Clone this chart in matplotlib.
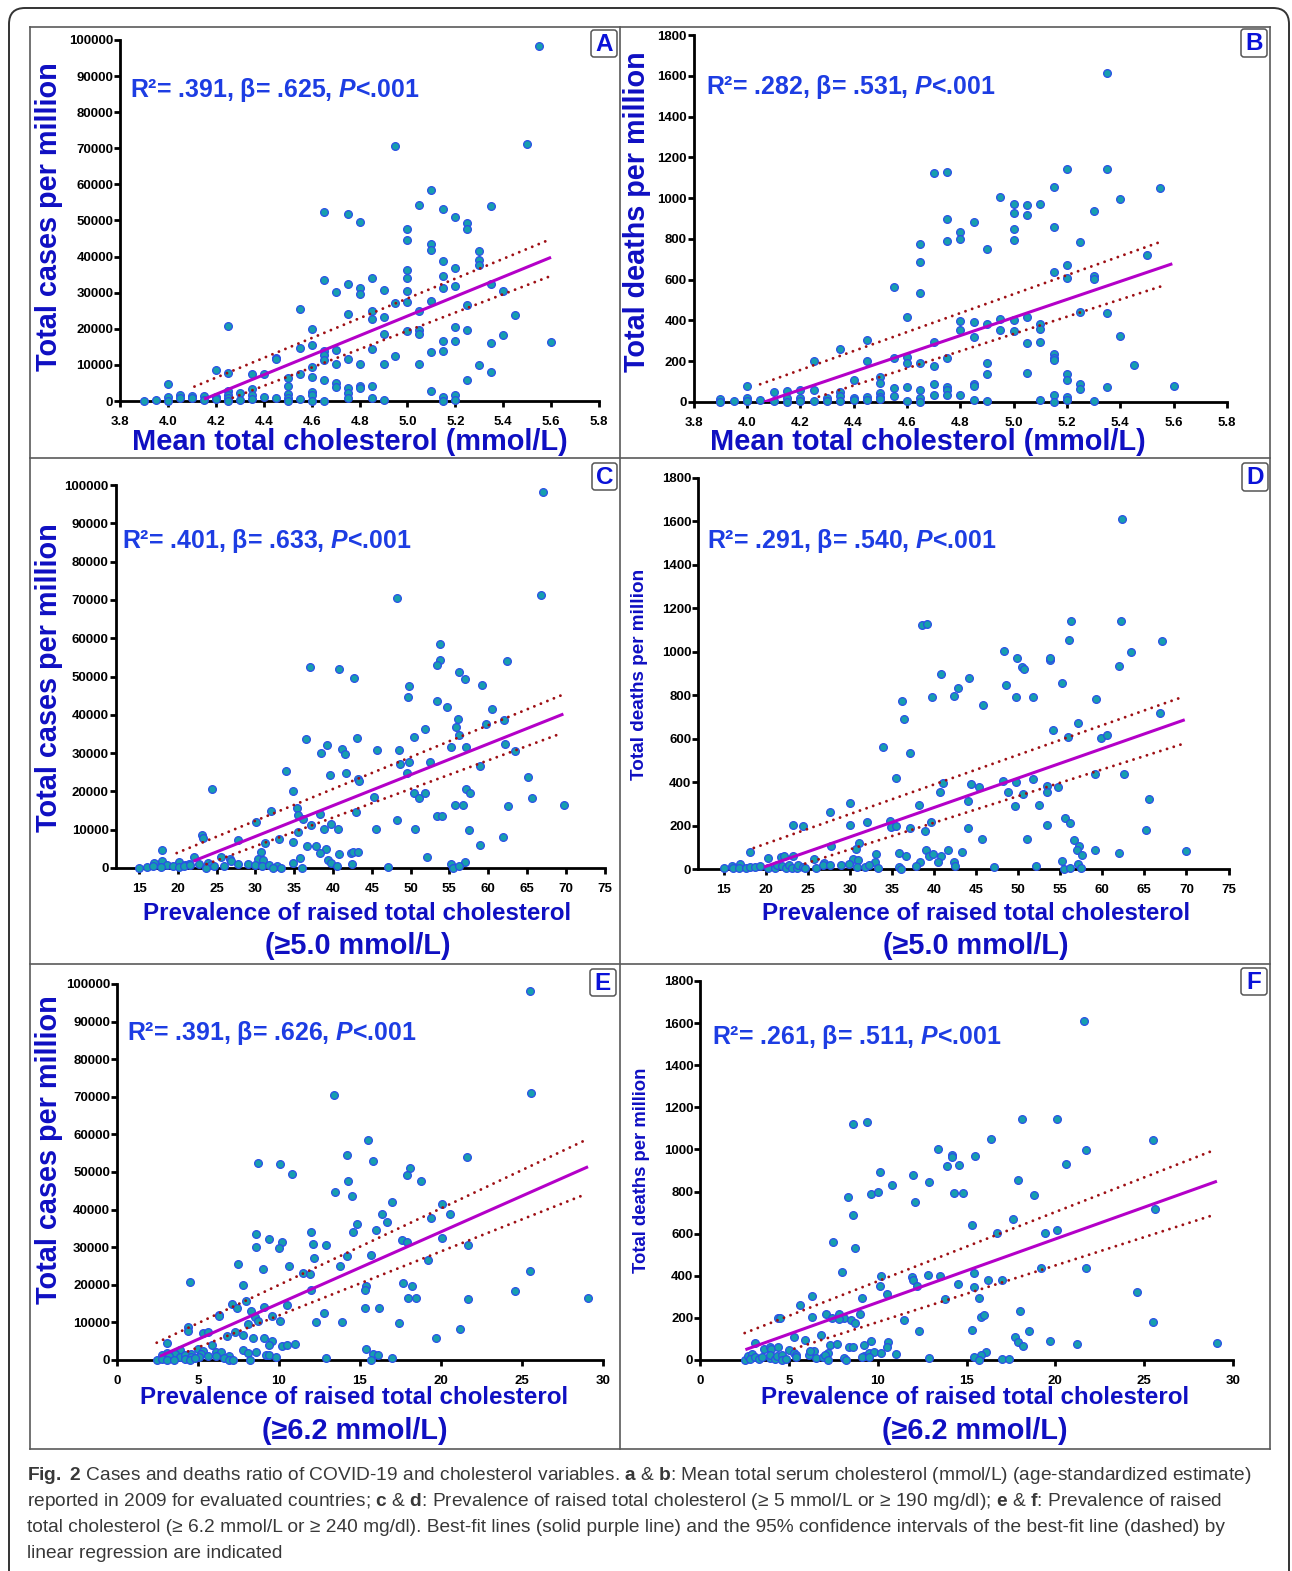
import matplotlib
matplotlib.use('Agg')
import matplotlib.pyplot as plt
from matplotlib import font_manager as fm
from matplotlib.patches import FancyBboxPatch
from matplotlib.lines import Line2D
from matplotlib.transforms import IdentityTransform

# ---- data ----
# A: cases vs mean total cholesterol
chol_a = [3.9, 3.95, 4.0, 4.0, 4.0, 4.05, 4.05, 4.1, 4.1, 4.15, 4.15, 4.2, 4.2, 4.2,
          4.25, 4.25, 4.25, 4.25, 4.25, 4.25, 4.3, 4.3, 4.35, 4.35, 4.35, 4.35, 4.4, 4.4,
          4.45, 4.45, 4.45, 4.5, 4.5, 4.5, 4.5, 4.5, 4.55, 4.55, 4.55, 4.55,
          4.6, 4.6, 4.6, 4.6, 4.6, 4.6, 4.6, 4.65, 4.65, 4.65, 4.65, 4.65, 4.65, 4.65,
          4.7, 4.7, 4.7, 4.7, 4.7, 4.75, 4.75, 4.75, 4.75, 4.75, 4.75, 4.75,
          4.8, 4.8, 4.8, 4.8, 4.8, 4.8, 4.85, 4.85, 4.85, 4.85, 4.85, 4.85,
          4.9, 4.9, 4.9, 4.9, 4.9, 4.95, 4.95, 4.95, 5.0, 5.0, 5.0, 5.0, 5.0, 5.0, 5.0,
          5.05, 5.05, 5.05, 5.05, 5.05, 5.1, 5.1, 5.1, 5.1, 5.1, 5.1,
          5.15, 5.15, 5.15, 5.15, 5.15, 5.15, 5.15, 5.15, 5.2, 5.2, 5.2, 5.2, 5.2, 5.2, 5.2,
          5.25, 5.25, 5.25, 5.25, 5.25, 5.3, 5.3, 5.3, 5.3, 5.35, 5.35, 5.35, 5.35,
          5.4, 5.4, 5.45, 5.5, 5.55, 5.6]
cases_a = [0, 300, 4600, 1200, 0, 1700, 700, 1500, 700, 1400, 200, 8700, 1200, 500,
           20700, 7800, 2800, 1700, 700, 0, 2200, 300, 7400, 3200, 1700, 500, 7400, 1200,
           12000, 11600, 900, 6500, 4100, 2000, 900, 0, 25400, 14700, 7600, 500,
           19900, 15600, 9500, 6700, 2400, 1700, 0, 52400, 33600, 13900, 12700, 11400, 5700, 0,
           30200, 14100, 10200, 5000, 3800, 51900, 32300, 24200, 11600, 3700, 2100, 900,
           49600, 31200, 29700, 10200, 4200, 3700, 34100, 24800, 22700, 14500, 4100, 800,
           30700, 23300, 18500, 10200, 400, 70500, 27100, 12600,
           47600, 44600, 36200, 34200, 30600, 27500, 19400,
           54400, 24900, 19700, 18500, 10200, 58400, 43600, 41900, 27700, 13700, 2900,
           53100, 38900, 34500, 31400, 16600, 13900, 1200, 0,
           51100, 36800, 31800, 20400, 16600, 1700, 400,
           49300, 47700, 26600, 19600, 5900, 41500, 39000, 37700, 9900,
           54000, 32300, 16200, 8000, 30600, 18200, 23700, 71100, 98300, 16400]

# B: deaths vs mean total cholesterol
chol_b = [3.9, 3.9, 3.95, 4.0, 4.0, 4.0, 4.05, 4.1, 4.1, 4.15, 4.15, 4.15, 4.2, 4.2, 4.2,
          4.25, 4.25, 4.25, 4.3, 4.3, 4.35, 4.35, 4.35, 4.35, 4.4, 4.4, 4.4,
          4.45, 4.45, 4.45, 4.45, 4.5, 4.5, 4.5, 4.5, 4.5, 4.55, 4.55, 4.55, 4.55,
          4.6, 4.6, 4.6, 4.6, 4.6, 4.65, 4.65, 4.65, 4.65, 4.65, 4.65, 4.65,
          4.7, 4.7, 4.7, 4.7, 4.7, 4.75, 4.75, 4.75, 4.75, 4.75, 4.75, 4.75,
          4.8, 4.8, 4.8, 4.8, 4.8, 4.85, 4.85, 4.85, 4.85, 4.85, 4.85,
          4.9, 4.9, 4.9, 4.9, 4.9, 4.95, 4.95, 4.95, 5.0, 5.0, 5.0, 5.0, 5.0, 5.0,
          5.05, 5.05, 5.05, 5.05, 5.05, 5.1, 5.1, 5.1, 5.1, 5.1,
          5.15, 5.15, 5.15, 5.15, 5.15, 5.15, 5.15, 5.15, 5.2, 5.2, 5.2, 5.2, 5.2, 5.2, 5.2,
          5.25, 5.25, 5.25, 5.25, 5.3, 5.3, 5.3, 5.3, 5.35, 5.35, 5.35, 5.35,
          5.4, 5.4, 5.45, 5.5, 5.55, 5.6]
deaths_b = [16, 0, 5, 78, 21, 5, 10, 51, 5, 54, 21, 0, 60, 21, 5,
            200, 60, 5, 21, 5, 262, 47, 31, 5, 106, 21, 10,
            306, 203, 26, 10, 121, 95, 44, 23, 15, 562, 217, 69, 31,
            418, 221, 193, 72, 5, 777, 688, 536, 193, 60, 21, 0,
            1125, 294, 177, 88, 33, 1130, 896, 791, 217, 72, 57, 34,
            834, 799, 399, 353, 34, 881, 394, 320, 87, 78, 11,
            752, 381, 190, 139, 5, 1004, 409, 353, 973, 929, 847, 793, 401, 347,
            965, 919, 415, 291, 141, 971, 383, 358, 296, 11,
            1054, 857, 639, 235, 214, 206, 34, 0, 1144, 672, 606, 136, 110, 26, 11,
            783, 440, 88, 64, 935, 620, 602, 5, 1614, 1144, 436, 74,
            997, 322, 181, 719, 1048, 80]

# C: cases vs prevalence of raised cholesterol (>=5.0 mmol/L)
prev5_c = [67.1, 48.3, 66.8, 37.0, 40.8, 42.7, 53.8, 53.8, 53.4, 56.2, 57.0, 62.4, 49.8, 49.7,
           53.4, 54.7, 59.2, 60.5, 56.1, 62.0, 55.9, 59.7, 51.8, 56.2, 50.5, 43.1, 36.5, 39.2,
           41.1, 38.5, 41.6, 45.7, 48.5, 62.2, 63.4, 57.1, 55.2, 48.7, 49.8, 52.5, 59.0, 49.6,
           33.9, 39.6, 41.7, 43.2, 43.4, 65.2, 24.4, 34.8, 50.5, 51.1, 51.8, 57.1, 57.6, 45.3,
           65.6, 55.7, 56.7, 62.6, 69.8, 32.0, 35.4, 43.0, 35.5, 36.1, 53.4, 54.1, 48.2, 30.1,
           38.3, 35.5, 37.2, 39.7, 38.9, 40.6, 45.6, 50.6, 57.5, 23.1, 23.2, 27.7, 33.0, 61.9,
           34.8, 31.2, 36.7, 37.8, 39.1, 59.0, 18.0, 30.7, 38.3, 40.8, 42.3, 42.6, 43.2, 52.1,
           22.1, 25.6, 26.7, 30.3, 31.0, 35.8, 39.4, 39.7, 57.0, 55.2, 18.0, 16.9, 18.6, 20.2,
           20.9, 21.5, 22.7, 23.9, 24.3, 26.9, 27.7, 29.0, 29.9, 30.9, 31.8, 32.8, 34.9, 42.5,
           15.0, 16.0, 16.8, 17.8, 19.4, 20.2, 20.8, 21.6, 23.6, 24.6, 26.0, 32.3, 33.3, 36.0,
           40.5, 47.1, 55.5, 56.2]
cases_c = [98300, 70400, 71200, 52400, 52000, 49500, 58600, 54400, 53000, 51100, 49300, 54000,
           47600, 44600, 43700, 42100, 47700, 41400, 38800, 38700, 36800, 37700, 36300, 34600,
           34100, 34000, 33600, 32200, 31200, 30100, 29700, 30700, 30700, 32400, 30500, 31700,
           31500, 27100, 27600, 27800, 26700, 24900, 25400, 24200, 24800, 23200, 22700, 23700,
           20700, 20000, 19500, 18400, 19700, 20500, 19600, 18500, 18300, 16500, 16500, 16200,
           16500, 14800, 15600, 14500, 13800, 12900, 13600, 13700, 12500, 12000, 14100, 9500,
           11300, 11600, 10300, 10300, 10200, 10200, 9900, 8700, 7800, 7400, 7600, 8100,
           6700, 6400, 5800, 5800, 5000, 5900, 4600, 4100, 3800, 3700, 3900, 4300, 4200, 2900,
           2800, 3000, 2300, 2300, 2200, 2500, 2200, 1200, 1500, 1100, 1700, 1300, 900, 1500,
           900, 1000, 1000, 1300, 900, 1700, 1000, 1000, 700, 400, 900, 600, 1300, 1000,
           100, 300, 400, 300, 400, 300, 600, 800, 0, 400, 400, 0, 100, 0,
           600, 300, 0, 400]

# D: deaths vs prevalence of raised cholesterol (>=5.0 mmol/L)
prev5_d = [62.4, 38.6, 39.2, 56.3, 62.2, 56.1, 67.1, 48.3, 49.9, 53.8, 53.8, 50.5, 50.7, 62.0,
           63.4, 40.8, 44.2, 48.6, 55.2, 42.8, 42.4, 39.8, 49.8, 51.8, 59.2, 36.2, 45.8, 36.5,
           66.9, 57.1, 37.1, 33.9, 54.1, 55.9, 59.8, 60.6, 35.5, 59.1, 62.6, 41.1, 44.4, 45.3,
           48.2, 49.8, 51.8, 53.4, 53.4, 54.7, 40.7, 48.8, 50.6, 44.0, 52.5, 49.6, 38.2, 30.0,
           65.6, 27.6, 34.8, 34.9, 35.5, 30.0, 32.0, 23.2, 24.4, 39.7, 38.9, 37.2, 44.1, 53.4,
           55.6, 56.2, 65.2, 45.7, 51.1, 56.7, 57.2, 57.0, 31.1, 30.7, 27.8, 18.1, 39.0, 41.7,
           43.3, 59.1, 62.0, 69.9, 20.3, 21.8, 22.2, 23.2, 25.7, 30.4, 31.0, 33.1, 35.8, 36.7,
           39.4, 39.9, 40.8, 40.5, 42.4, 57.6, 55.2, 26.9, 33.0, 38.4, 57.1,
           15.1, 16.0, 16.1, 16.9, 16.8, 17.7, 18.1, 18.7, 19.3, 20.3, 21.1, 21.3, 21.9, 22.4,
           22.8, 23.1, 23.7, 23.9, 24.4, 24.7, 26.0, 26.8, 27.6, 29.0, 29.9, 30.8, 31.8, 32.3,
           33.4, 35.8, 36.1, 37.9, 42.5, 47.1, 52.1, 55.5, 56.2, 57.5]
deaths_d = [1613, 1122, 1128, 1143, 1143, 1053, 1048, 1002, 973, 964, 973, 931, 919, 933,
            997, 896, 881, 847, 856, 833, 798, 790, 793, 792, 783, 775, 753, 689,
            718, 672, 536, 562, 640, 606, 602, 618, 417, 437, 436, 397, 393, 379,
            407, 399, 416, 381, 356, 379, 353, 353, 345, 315, 295, 290, 295, 305,
            322, 261, 222, 192, 198, 203, 218, 203, 198, 216, 173, 187, 187, 204,
            233, 212, 180, 138, 138, 135, 107, 86, 120, 94, 104, 77, 89, 87,
            80, 89, 72, 81, 51, 54, 61, 61, 46, 46, 41, 71, 72, 60,
            58, 71, 61, 34, 34, 63, 35, 29, 32, 32, 21,
            3, 15, 3, 21, 6, 5, 11, 9, 12, 3, 6, 17, 15, 5,
            20, 5, 3, 20, 9, 6, 6, 18, 18, 17, 21, 11, 9, 20,
            3, 9, 0, 15, 12, 8, 12, 0, 3, 3]

# E: cases vs prevalence of raised cholesterol (>=6.2 mmol/L)
prev6_e = [25.5, 25.6, 13.4, 15.5, 14.2, 15.8, 8.7, 10.1, 10.8, 21.6, 18.1, 17.9, 18.8, 14.3,
           14.5, 13.5, 17.0, 20.1, 16.4, 20.6, 19.4, 16.7, 14.8, 16.0, 14.6, 8.6, 12.0, 9.4,
           10.2, 12.1, 12.9, 8.6, 10.0, 20.1, 17.6, 17.9, 21.7, 14.2, 15.7, 12.2, 19.2, 7.5,
           10.6, 13.8, 9.0, 25.5, 11.5, 11.9, 4.5, 7.8, 17.7, 18.2, 15.4, 15.3, 12.0, 24.6,
           18.0, 18.5, 21.7, 29.1, 8.0, 7.1, 7.4, 9.1, 10.5, 15.3, 16.2, 6.3, 6.3, 8.3,
           8.5, 9.6, 12.8, 8.7, 10.1, 12.3, 13.9, 8.1, 17.4, 4.4, 4.4, 21.2, 5.3, 5.6,
           7.3, 6.8, 7.8, 8.4, 9.1, 19.7, 9.6, 9.4, 10.2, 10.5, 11.0, 3.1, 5.9, 15.4,
           5.0, 3.9, 5.3, 6.1, 6.4, 8.6, 7.8, 3.1, 3.6, 4.6, 5.2, 9.2, 9.4, 9.8,
           15.8, 16.1, 8.1, 6.9, 6.1, 2.8, 3.2, 3.9, 4.2, 4.6, 5.1, 5.6, 2.5, 2.8,
           3.1, 3.5, 4.2, 4.5, 4.8, 6.6, 6.9, 7.2, 8.2, 12.9, 15.7, 17.0]
cases_e = [98200, 71100, 70400, 58500, 54400, 53000, 52400, 52000, 49600, 54000, 51100, 49300,
           47700, 47600, 43700, 44600, 42000, 41500, 38800, 38800, 37700, 36800, 36300, 34600,
           34100, 33600, 34000, 32300, 31300, 30800, 30600, 30100, 29700, 32400, 31800, 31500,
           30500, 27700, 27800, 27100, 26600, 25400, 24900, 25000, 24100, 23800, 23200, 22800,
           20800, 20000, 20500, 19600, 19600, 18500, 18500, 18300, 16600, 16600, 16200, 16500,
           15600, 14800, 13800, 14100, 14500, 13800, 13700, 12100, 11700, 12900, 11400, 11600,
           12600, 10400, 10300, 10200, 10200, 9500, 9900, 8900, 7800, 8200, 7300, 7400,
           7500, 6500, 6700, 5900, 5800, 5900, 5000, 3900, 3700, 4100, 4200, 4600, 4100, 2900,
           3000, 2700, 2300, 2100, 2200, 2200, 2600, 1900, 1700, 1600, 1600, 1200, 1200, 800,
           1600, 1200, 1800, 1000, 1000, 1200, 1100, 900, 1200, 900, 800, 1100, 0, 200,
           0, 100, 300, 0, 400, 500, 0, 0, 0, 400, 0, 400]

# F: deaths vs prevalence of raised cholesterol (>=6.2 mmol/L)
prev6_f = [21.6, 8.6, 9.4, 18.1, 20.1, 16.4, 25.5, 13.4, 21.7, 14.2, 14.2, 15.5, 13.9, 14.6,
           20.6, 10.1, 12.0, 17.9, 12.9, 10.8, 8.3, 9.6, 10.0, 14.3, 14.8, 18.8, 12.1, 8.6,
           25.6, 17.6, 15.3, 7.5, 8.7, 16.7, 19.4, 20.1, 8.0, 19.2, 21.7, 10.2, 11.9, 12.0,
           12.8, 13.5, 15.4, 10.1, 12.2, 15.4, 14.5, 16.2, 17.0, 10.5, 6.3, 9.1, 13.8, 15.7,
           5.6, 24.6, 4.4, 4.5, 6.3, 7.1, 7.4, 7.8, 8.1, 7.8, 8.5, 8.7, 9.0, 15.8,
           16.0, 18.0, 25.5, 11.5, 12.3, 15.3, 18.5, 5.3, 5.9, 6.8, 3.1, 29.1, 21.2, 19.7,
           17.7, 17.9, 18.2, 8.4, 8.6, 9.2, 9.6, 10.6, 10.5, 7.3, 7.7, 3.6, 3.9, 4.0,
           4.4, 5.0, 5.3, 5.4, 6.1, 6.4, 6.2, 7.2, 9.2, 9.5, 9.8, 10.2, 11.0, 16.1,
           15.8, 2.5, 2.7, 2.9, 2.8, 3.1, 3.3, 3.5, 3.9, 3.9, 4.2, 4.3, 4.6, 4.6,
           4.8, 5.4, 6.5, 6.9, 7.0, 7.2, 8.1, 8.2, 9.1, 9.5, 12.9, 15.4, 15.7, 17.0, 17.4]
deaths_f = [1612, 1122, 1128, 1143, 1143, 1051, 1046, 1002, 997, 973, 962, 970, 919, 927,
            933, 895, 880, 856, 846, 832, 773, 789, 797, 791, 791, 783, 751, 688,
            718, 670, 639, 561, 534, 605, 601, 616, 420, 439, 436, 399, 393, 380,
            406, 399, 415, 353, 352, 347, 360, 380, 380, 315, 306, 295, 292, 296,
            261, 322, 201, 200, 204, 220, 201, 220, 201, 195, 190, 176, 217, 206,
            216, 235, 182, 190, 139, 141, 136, 108, 97, 120, 79, 82, 74, 90,
            111, 86, 65, 62, 62, 70, 89, 86, 60, 71, 74, 51, 60, 52,
            63, 46, 35, 22, 22, 41, 44, 33, 21, 33, 36, 33, 29, 36,
            24, 2, 19, 29, 5, 13, 3, 14, 8, 22, 3, 21, 25, 2,
            6, 13, 10, 13, 22, 2, 11, 0, 13, 14, 8, 13, 0, 3, 3]

# best-fit line and 95% CI end points (x0, x1), (y0, y1)
fit_a = ([4.15, 5.6], [500, 39800]);  hi_a = ([4.11, 5.59], [4000, 44600]);  lo_a = ([4.27, 5.59], [900, 34400])
fit_b = ([4.065, 5.595], [0, 678]);   hi_b = ([4.05, 5.55], [87, 785]);       lo_b = ([4.27, 5.55], [26, 566])
fit_c = ([22.0, 69.7], [1800, 40200]); hi_c = ([19.85, 69.8], [3900, 45400]); lo_c = ([23.7, 69.1], [1000, 34900])
fit_d = ([19.8, 69.8], [9, 687]);     hi_d = ([18.6, 69.4], [97, 790]);       lo_d = ([24.7, 69.5], [25, 575])
fit_e = ([2.65, 29.1], [1000, 51400]); hi_e = ([2.46, 29.0], [4600, 58600]);  lo_e = ([4.4, 28.9], [2300, 44000])
fit_f = ([2.54, 29.1], [49, 849]);    hi_f = ([2.5, 28.8], [128, 992]);       lo_f = ([5.3, 29.0], [54, 691])

stats = ['R\u00b2= .391, \u03b2= .625, $P$<.001', 'R\u00b2= .282, \u03b2= .531, $P$<.001',
         'R\u00b2= .401, \u03b2= .633, $P$<.001', 'R\u00b2= .291, \u03b2= .540, $P$<.001',
         'R\u00b2= .391, \u03b2= .626, $P$<.001', 'R\u00b2= .261, \u03b2= .511, $P$<.001']
letters = ['A', 'B', 'C', 'D', 'E', 'F']

# ---- style ----
W, H = 1292, 1571
names = {f.name for f in fm.fontManager.ttflist}
cap_font = 'Liberation Sans Narrow' if 'Liberation Sans Narrow' in names else 'Liberation Sans'
plt.rcParams['font.family'] = ['Liberation Sans', 'DejaVu Sans']
plt.rcParams['mathtext.fontset'] = 'custom'
plt.rcParams['mathtext.it'] = 'Liberation Sans:italic:bold'
plt.rcParams['mathtext.rm'] = 'Liberation Sans'
plt.rcParams['mathtext.bf'] = cap_font + ':bold'

LBL = '#0f0fc2'
STAT = '#1d3de3'
FACE = '#169fae'
EDGE = '#2b4fe6'
FITC = '#b400c8'
CIC = '#9e0f14'

fig = plt.figure(figsize=(W / 100, H / 100), dpi=100)
ID = IdentityTransform()


def px(x0, y0, x1, y1):
    # pixel box (top-left origin) -> figure fraction rect
    return [x0 / W, 1 - y1 / H, (x1 - x0) / W, (y1 - y0) / H]


def ftext(x, y, s, **kw):
    return fig.text(x / W, 1 - y / H, s, **kw)


def panel(rect, xs, ys, fit, hi, lo, xlim, xticks, xlabels, ymax, ystep):
    ax = fig.add_axes(rect)
    ax.scatter(xs, ys, s=31, c=FACE, edgecolors=EDGE, linewidths=0.9, zorder=3, clip_on=False)
    ax.plot(hi[0], hi[1], color=CIC, lw=2.1, linestyle=(0, (0.01, 2.4)), dash_capstyle='round', zorder=4)
    ax.plot(lo[0], lo[1], color=CIC, lw=2.1, linestyle=(0, (0.01, 2.4)), dash_capstyle='round', zorder=4)
    ax.plot(fit[0], fit[1], color=FITC, lw=2.2, zorder=5, solid_capstyle='butt')
    ax.set_xlim(*xlim)
    ax.set_ylim(0, ymax)
    ax.set_xticks(xticks)
    ax.set_xticklabels(xlabels, fontweight='bold', fontsize=9.5)
    yt = list(range(0, ymax + 1, ystep))
    ax.set_yticks(yt)
    ax.set_yticklabels([str(v) for v in yt], fontweight='bold', fontsize=9.5)
    for s in ['top', 'right']:
        ax.spines[s].set_visible(False)
    for s in ['left', 'bottom']:
        ax.spines[s].set_linewidth(2.0)
        ax.spines[s].set_capstyle('projecting')
    ax.tick_params(axis='both', direction='out', length=4, width=2.0, colors='black')
    ax.tick_params(axis='x', pad=6.5)
    ax.tick_params(axis='y', pad=1)
    ax.patch.set_alpha(0)
    return ax


chol_ticks = [3.8, 4.0, 4.2, 4.4, 4.6, 4.8, 5.0, 5.2, 5.4, 5.6, 5.8]
chol_labels = ['3.8', '4.0', '4.2', '4.4', '4.6', '4.8', '5.0', '5.2', '5.4', '5.6', '5.8']
p5_ticks = [15, 20, 25, 30, 35, 40, 45, 50, 55, 60, 65, 70, 75]
p6_ticks = [0, 5, 10, 15, 20, 25, 30]

panel(px(120.3, 40, 598.9, 401), chol_a, cases_a, fit_a, hi_a, lo_a, (3.8, 5.8), chol_ticks, chol_labels, 100000, 10000)
panel(px(693.5, 35, 1227, 402), chol_b, deaths_b, fit_b, hi_b, lo_b, (3.8, 5.8), chol_ticks, chol_labels, 1800, 200)
panel(px(115.8, 485, 604.5, 868), prev5_c, cases_c, fit_c, hi_c, lo_c, (12, 75), p5_ticks, [str(v) for v in p5_ticks], 100000, 10000)
panel(px(698.3, 478, 1228.5, 869), prev5_d, deaths_d, fit_d, hi_d, lo_d, (12, 75), p5_ticks, [str(v) for v in p5_ticks], 1800, 200)
panel(px(116.9, 984, 602.6, 1360), prev6_e, cases_e, fit_e, hi_e, lo_e, (0, 30), p6_ticks, [str(v) for v in p6_ticks], 100000, 10000)
panel(px(700.3, 981, 1232.9, 1360), prev6_f, deaths_f, fit_f, hi_f, lo_f, (0, 30), p6_ticks, [str(v) for v in p6_ticks], 1800, 200)

# ---- axis titles ----
bold = dict(fontweight='bold', color=LBL, ha='center', va='center')
ftext(350, 442, 'Mean total cholesterol (mmol/L)', fontsize=20.9, **bold)
ftext(928, 442, 'Mean total cholesterol (mmol/L)', fontsize=20.9, **bold)
for cx, y1 in [(357, 913), (976, 913), (354, 1398), (975, 1398)]:
    ftext(cx, y1, 'Prevalence of raised total cholesterol', fontsize=17.4, **bold)
lvl = ['(\u22655.0 mmol/L)', '(\u22655.0 mmol/L)', '(\u22656.2 mmol/L)', '(\u22656.2 mmol/L)']
for (cx, y2), s in zip([(358, 946), (976, 946), (355, 1431), (975, 1431)], lvl):
    ftext(cx, y2, s, fontsize=20.8, **bold)

ftext(49, 217, 'Total cases per million', fontsize=20.8, rotation=90, **bold)
ftext(637, 212, 'Total deaths per million', fontsize=20.7, rotation=90, **bold)
ftext(49, 678, 'Total cases per million', fontsize=20.8, rotation=90, **bold)
ftext(639, 674, 'Total deaths per million', fontsize=13.6, rotation=90, **bold)
ftext(49, 1150, 'Total cases per million', fontsize=20.8, rotation=90, **bold)
ftext(642, 1170, 'Total deaths per million', fontsize=13.3, rotation=90, **bold)

# ---- statistics ----
for (x, y), s in zip([(130, 90), (706, 87), (122, 541), (707, 541), (127, 1033), (712, 1037)], stats):
    ftext(x, y, s, fontsize=17.9, fontweight='bold', color=STAT, ha='left', va='center')

# ---- panel frames ----
lc = '#5a5a5a'
for y in [27, 458, 964, 1449]:
    fig.add_artist(Line2D([30, 1270], [H - y, H - y], color=lc, lw=1.2, transform=ID))
for x in [30, 620, 1270]:
    fig.add_artist(Line2D([x, x], [H - 27, H - 1449], color=lc, lw=1.2, transform=ID))

for (x0, y0, x1, y1), L in zip([(591, 30, 617, 57), (1241, 29, 1267, 57), (592, 463, 617, 490),
                                (1242, 463, 1268, 491), (590, 969, 616, 996), (1241, 968, 1267, 995)], letters):
    fig.add_artist(FancyBboxPatch((x0, H - y1), x1 - x0, y1 - y0, boxstyle='round,pad=0,rounding_size=3',
                                  fc='white', ec='#555555', lw=1.1, transform=ID))
    ftext((x0 + x1) / 2, (y0 + y1) / 2 + 1, L, fontsize=17.5, fontweight='bold', color='#0a12d8',
          ha='center', va='center')

# outer rounded frame
fig.add_artist(FancyBboxPatch((9, H - 1620), 1280, 1612, boxstyle='round,pad=0,rounding_size=16',
                              fc='none', ec='#333333', lw=1.4, transform=ID))

# ---- caption ----
cap = ['$\\mathbf{Fig.}$ $\\mathbf{2}$ Cases and deaths ratio of COVID-19 and cholesterol variables. $\\mathbf{a}$ & $\\mathbf{b}$: Mean total serum cholesterol (mmol/L) (age-standardized estimate)',
       'reported in 2009 for evaluated countries; $\\mathbf{c}$ & $\\mathbf{d}$: Prevalence of raised total cholesterol (\u2265 5 mmol/L or \u2265 190 mg/dl); $\\mathbf{e}$ & $\\mathbf{f}$: Prevalence of raised',
       'total cholesterol (\u2265 6.2 mmol/L or \u2265 240 mg/dl). Best-fit lines (solid purple line) and the 95% confidence intervals of the best-fit line (dashed) by',
       'linear regression are indicated']
cap_y = [1475, 1501, 1527, 1553]
texts = [ftext(27, y, s, fontsize=13, family=[cap_font, 'DejaVu Sans'], color='#383838', ha='left', va='center')
         for s, y in zip(cap, cap_y)]
r = fig.canvas.get_renderer()
w0 = texts[0].get_window_extent(r).width
size = 13 * 1220 / w0
for t in texts:
    t.set_fontsize(size)

fig.savefig('out.png', dpi=100)
